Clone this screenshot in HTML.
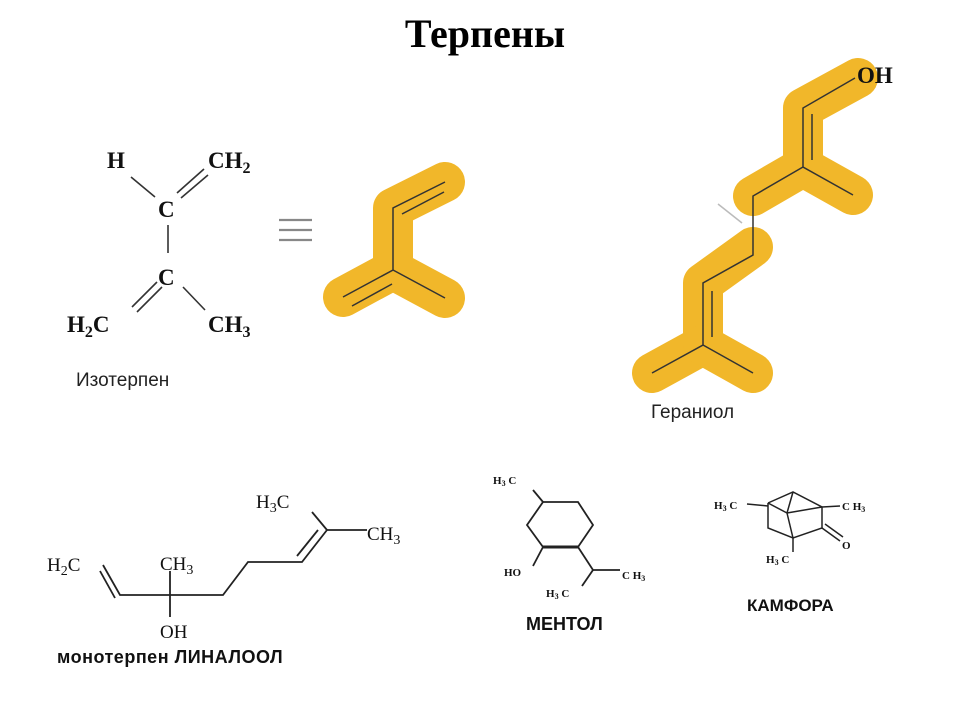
<!DOCTYPE html>
<html><head><meta charset="utf-8"><style>
html,body{margin:0;padding:0;background:#fff;}
svg{display:block}
</style></head><body>
<svg width="960" height="720" viewBox="0 0 960 720" xmlns="http://www.w3.org/2000/svg">
<text x="485" y="47" text-anchor="middle" font-family="Liberation Serif, serif" font-weight="bold" font-size="40">Терпены</text>

<!-- Isoterpene -->
<g font-family="Liberation Serif, serif" font-weight="bold" font-size="23" fill="#111">
<text x="107" y="168">H</text>
<text x="208" y="168">CH<tspan font-size="16" dy="5">2</tspan></text>
<text x="158" y="217">C</text>
<text x="158" y="285">C</text>
<text x="67" y="332">H<tspan font-size="16" dy="5">2</tspan><tspan dy="-5">C</tspan></text>
<text x="208" y="332">CH<tspan font-size="16" dy="5">3</tspan></text>
</g>
<g stroke="#333" stroke-width="1.6" fill="none">
<line x1="131" y1="177" x2="155" y2="197"/>
<line x1="177" y1="193" x2="204" y2="169"/>
<line x1="181" y1="198" x2="208" y2="175"/>
<line x1="168" y1="225" x2="168" y2="253"/>
<line x1="157" y1="282" x2="132" y2="307"/>
<line x1="162" y1="287" x2="137" y2="312"/>
<line x1="183" y1="287" x2="205" y2="310"/>
</g>
<text x="76" y="386" font-family="Liberation Sans, sans-serif" font-size="19" fill="#222">Изотерпен</text>
<g stroke="#888" stroke-width="2.2">
<line x1="279" y1="220" x2="312" y2="220"/>
<line x1="279" y1="230" x2="312" y2="230"/>
<line x1="279" y1="240" x2="312" y2="240"/>
</g>
<polyline points="445,182 393,208 393,270 343,297" fill="none" stroke="#F1B72A" stroke-width="40" stroke-linecap="round" stroke-linejoin="round"/>
<line x1="393" y1="270" x2="445" y2="298" stroke="#F1B72A" stroke-width="40" stroke-linecap="round"/>
<g stroke="#333" stroke-width="1.5" fill="none">
<polyline points="445,182 393,208 393,270 343,297"/>
<line x1="393" y1="270" x2="445" y2="298"/>
<line x1="402" y1="214" x2="444" y2="192"/>
<line x1="352" y1="306" x2="392" y2="284"/>
</g>

<!-- Geraniol -->
<g stroke="#F1B72A" stroke-width="40" stroke-linecap="round" stroke-linejoin="round" fill="none">
<polyline points="858,78 803,108 803,167 853,195"/>
<polyline points="753,196 803,167"/>
<polyline points="753,247 703,283 703,345 652,373"/>
<polyline points="703,345 753,373"/>
</g>
<g stroke="#333" stroke-width="1.5" fill="none">
<polyline points="855,78 803,108 803,167 853,195"/>
<polyline points="803,167 753,196 753,255 703,283 703,345 652,373"/>
<line x1="703" y1="345" x2="753" y2="373"/>
<line x1="812" y1="114" x2="812" y2="160"/>
<line x1="712" y1="291" x2="712" y2="337"/>
</g>
<line x1="718" y1="204" x2="742" y2="223" stroke="#bbb" stroke-width="1.5"/>
<text x="857" y="83" font-family="Liberation Serif, serif" font-weight="bold" font-size="23" fill="#111">OH</text>
<text x="651" y="418" font-family="Liberation Sans, sans-serif" font-size="19" fill="#222">Гераниол</text>

<!-- Linalool -->
<g font-family="Liberation Serif, serif" font-size="19" fill="#111">
<text x="47" y="571">H<tspan font-size="14" dy="4">2</tspan><tspan dy="-4">C</tspan></text>
<text x="160" y="570">CH<tspan font-size="14" dy="4">3</tspan></text>
<text x="256" y="508">H<tspan font-size="14" dy="4">3</tspan><tspan dy="-4">C</tspan></text>
<text x="367" y="540">CH<tspan font-size="14" dy="4">3</tspan></text>
<text x="160" y="638">OH</text>
</g>
<g stroke="#222" stroke-width="1.8" fill="none">
<polyline points="103,565 120,595 223,595 248,562 302,562 327,530 367,530"/>
<line x1="100" y1="571" x2="115" y2="598"/>
<line x1="170" y1="571" x2="170" y2="617"/>
<line x1="327" y1="530" x2="312" y2="512"/>
<line x1="297" y1="556" x2="318" y2="530"/>
</g>
<text x="57" y="663" font-family="Liberation Sans, sans-serif" font-weight="bold" font-size="18" fill="#111" letter-spacing="0.5">монотерпен ЛИНАЛООЛ</text>

<!-- Menthol -->
<g font-family="Liberation Serif, serif" font-weight="bold" font-size="11" fill="#111">
<text x="493" y="484">H<tspan font-size="8" dy="2">3</tspan><tspan dy="-2"> C</tspan></text>
<text x="504" y="576">HO</text>
<text x="622" y="579">C H<tspan font-size="8" dy="2">3</tspan></text>
<text x="546" y="597">H<tspan font-size="8" dy="2">3</tspan><tspan dy="-2"> C</tspan></text>
</g>
<g stroke="#222" stroke-width="1.8" fill="none">
<polygon points="543,502 578,502 593,525 578,547 543,547 527,525"/>
<line x1="543" y1="547" x2="578" y2="547" stroke-width="3"/>
<line x1="543" y1="502" x2="533" y2="490"/>
<line x1="543" y1="547" x2="533" y2="566"/>
<polyline points="578,547 593,570 620,570"/>
<line x1="593" y1="570" x2="582" y2="586"/>
</g>
<text x="526" y="630" font-family="Liberation Sans, sans-serif" font-weight="bold" font-size="18" fill="#111">МЕНТОЛ</text>

<!-- Camphor -->
<g font-family="Liberation Serif, serif" font-weight="bold" font-size="11" fill="#111">
<text x="714" y="509">H<tspan font-size="8" dy="2">3</tspan><tspan dy="-2"> C</tspan></text>
<text x="842" y="510">C H<tspan font-size="8" dy="2">3</tspan></text>
<text x="766" y="563">H<tspan font-size="8" dy="2">3</tspan><tspan dy="-2"> C</tspan></text>
<text x="842" y="549">O</text>
</g>
<g stroke="#222" stroke-width="1.5" fill="none">
<polyline points="768,503 793,492 822,507 822,528 793,538 768,528 768,503"/>
<line x1="793" y1="492" x2="787" y2="513"/>
<line x1="787" y1="513" x2="793" y2="538"/>
<line x1="768" y1="503" x2="787" y2="513"/>
<line x1="787" y1="513" x2="822" y2="507"/>
<line x1="747" y1="504" x2="768" y2="506"/>
<line x1="822" y1="507" x2="840" y2="506"/>
<line x1="793" y1="538" x2="793" y2="552"/>
<line x1="822" y1="528" x2="840" y2="541"/>
<line x1="825" y1="524" x2="843" y2="537"/>
</g>
<text x="747" y="611" font-family="Liberation Sans, sans-serif" font-weight="bold" font-size="17" fill="#111">КАМФОРА</text>
</svg>
</body></html>
